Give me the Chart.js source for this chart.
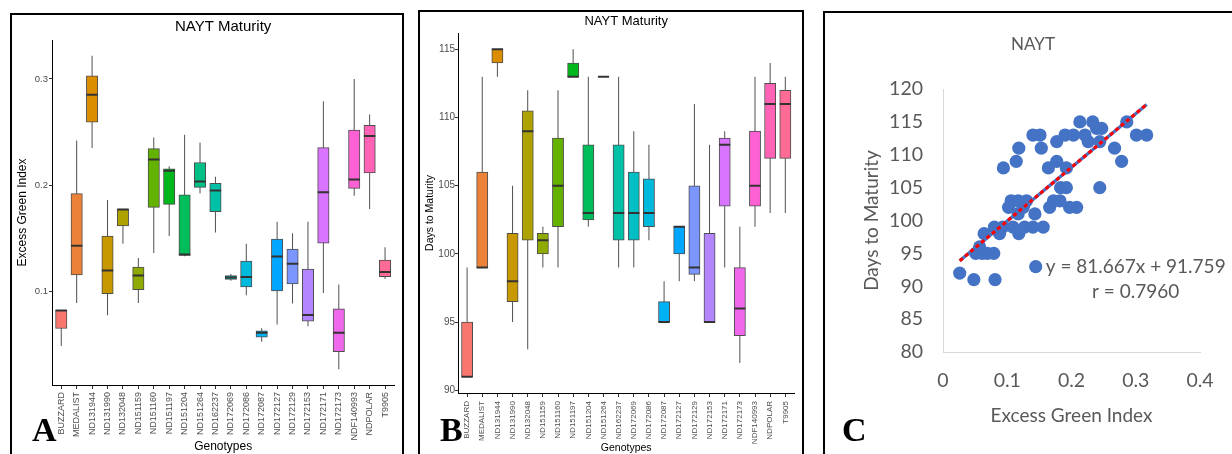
<!DOCTYPE html>
<html>
<head>
<meta charset="utf-8">
<title>NAYT Maturity</title>
<script src="https://cdn.jsdelivr.net/npm/chart.js@4.4.1/dist/chart.umd.min.js"></script>
<style>
  html, body { margin: 0; padding: 0; background: #fff; width: 1232px; height: 454px; overflow: hidden; }
  canvas { position: absolute; }
  .frame { position: absolute; border: 2px solid #000; box-sizing: border-box; }
  .letter { position: absolute; font-family: "Liberation Serif", "Times New Roman", serif; font-weight: bold;
            font-size: 34px; line-height: 1; color: #000; }
</style>
</head>
<body>
<canvas id="chartA" width="390" height="439" style="left:12px; top:15px;"></canvas>
<canvas id="chartB" width="382" height="442" style="left:420px; top:12px;"></canvas>
<canvas id="chartC" width="416" height="441" style="left:825px; top:13px;"></canvas>

<div class="frame" style="left:10px; top:13px; width:394px; height:460px;"></div>
<div class="frame" style="left:418px; top:10px; width:386px; height:460px;"></div>
<div class="frame" style="left:823px; top:11px; width:430px; height:460px;"></div>

<div class="letter" style="left:32px; top:413px;">A</div>
<div class="letter" style="left:440px; top:413px;">B</div>
<div class="letter" style="left:842px; top:413px;">C</div>

<script>
// ---------------- Genotypes of the NAYT trial ----------------
const genotypes = ['BUZZARD', 'MEDALIST', 'ND131944', 'ND131990', 'ND132048', 'ND151159', 'ND151160',
  'ND151197', 'ND151204', 'ND151264', 'ND162237', 'ND172069', 'ND172086', 'ND172087', 'ND172127',
  'ND172129', 'ND172153', 'ND172171', 'ND172173', 'NDF140993', 'NDPOLAR', 'T9905'];

// Excess Green Index per genotype: lower whisker, Q1, median, Q3, upper whisker
const egiLow  = [0.0485, 0.089, 0.235, 0.0775, 0.1447, 0.089, 0.136, 0.152, 0.133, 0.1922, 0.1553,
  0.110, 0.0963, 0.0526, 0.0688, 0.0885, 0.0672, 0.0985, 0.0266, 0.190, 0.1775, 0.1116];
const egiQ1   = [0.065, 0.1154, 0.2593, 0.0978, 0.1616, 0.1016, 0.179, 0.1819, 0.1337, 0.1978, 0.175,
  0.1112, 0.1041, 0.0569, 0.1004, 0.1069, 0.0719, 0.1454, 0.0432, 0.1969, 0.2115, 0.1138];
const egiMed  = [0.082, 0.143, 0.285, 0.1197, 0.177, 0.115, 0.2241, 0.2134, 0.1347, 0.2035, 0.195,
  0.1131, 0.1135, 0.061, 0.1328, 0.126, 0.0778, 0.1932, 0.061, 0.2053, 0.2462, 0.1182];
const egiQ3   = [0.082, 0.1919, 0.3028, 0.152, 0.1775, 0.1229, 0.2344, 0.2153, 0.1909, 0.2213, 0.2016,
  0.1147, 0.1285, 0.0629, 0.1491, 0.1397, 0.121, 0.2353, 0.0835, 0.2518, 0.2562, 0.1294];
const egiHigh = [0.082, 0.242, 0.3218, 0.186, 0.1775, 0.1313, 0.2447, 0.2178, 0.2475, 0.240, 0.2078,
  0.1163, 0.1447, 0.0653, 0.1656, 0.1547, 0.1656, 0.279, 0.1063, 0.300, 0.2665, 0.1416];
const egiTicks = [0.1, 0.2, 0.3];

// Days to maturity per genotype: lower whisker, Q1, median, Q3, upper whisker
const dtmLow  = [91, 99, 113, 95, 93, 99, 99, 113, 102, 113, 99, 99, 101, 95, 98, 98, 95, 99, 92, 102, 103, 103];
const dtmQ1   = [91, 99, 114, 96.5, 101, 100, 102, 113, 102.5, 113, 101, 101, 102, 95, 100, 98.5, 95, 103.5, 94, 103.5, 107, 107];
const dtmMed  = [91, 99, 115, 98, 109, 101, 105, 113, 103, 113, 103, 103, 103, 95, 102, 99, 95, 108, 96, 105, 111, 111];
const dtmQ3   = [95, 106, 115, 101.5, 110.5, 101.5, 108.5, 114, 108, 113, 108, 106, 105.5, 96.5, 102, 105, 101.5, 108.5, 99, 109, 112.5, 112];
const dtmHigh = [99, 113, 115, 105, 112, 102, 112, 115, 113, 113, 113, 109, 108, 98, 102, 111, 108, 109, 102, 113, 114, 113];
const dtmTicks = [90, 95, 100, 105, 110, 115];

// Plot-level observations: Excess Green Index vs days to maturity
const plotEgi  = [0.026, 0.048, 0.081, 0.051, 0.061, 0.069, 0.079, 0.057, 0.064, 0.088, 0.118, 0.080,
  0.093, 0.109, 0.127, 0.140, 0.156, 0.117, 0.143, 0.102, 0.125, 0.166, 0.208, 0.106, 0.117, 0.130,
  0.182, 0.197, 0.183, 0.192, 0.244, 0.094, 0.164, 0.192, 0.114, 0.177, 0.278, 0.118, 0.153, 0.267,
  0.177, 0.226, 0.244, 0.140, 0.151, 0.190, 0.203, 0.221, 0.239, 0.301, 0.317, 0.247, 0.213, 0.233,
  0.286, 0.172];
const plotDays = [92, 91, 91, 95, 95, 95, 95, 96, 98, 98, 98, 99,
  99, 99, 99, 99, 99, 101, 101, 102, 102, 102, 102, 103, 103, 103,
  103, 102, 105, 105, 105, 108, 108, 108, 109, 109, 109, 111, 111, 111,
  112, 112, 112, 113, 113, 113, 113, 113, 114, 113, 113, 114, 115, 115,
  115, 103];
const trendSlope = 81.667;
const trendIntercept = 91.759;
const trendR = 0.7960;
const scatterXTicks = [0, 0.1, 0.2, 0.3, 0.4];
const scatterYTicks = [80, 85, 90, 95, 100, 105, 110, 115, 120];

// ---------------- helpers ----------------
// ggplot-style hue palette colour from polar CIE-Luv (h, c, l)
function hcl(h, c, l) {
  const hr = h * Math.PI / 180;
  const U = c * Math.cos(hr), V = c * Math.sin(hr);
  const Y = l > 7.999592 ? Math.pow((l + 16) / 116, 3) : l / 903.3;
  const u = U / (13 * l) + 0.1978398;
  const v = V / (13 * l) + 0.4683363;
  const X = 9 * Y * u / (4 * v);
  const Z = -X / 3 - 5 * Y + 3 * Y / v;
  const gam = t => {
    t = t > 0.0031308 ? 1.055 * Math.pow(t, 1 / 2.4) - 0.055 : 12.92 * t;
    return Math.round(255 * Math.min(1, Math.max(0, t)));
  };
  const r = gam(3.240479 * X - 1.537150 * Y - 0.498535 * Z);
  const g = gam(-0.969256 * X + 1.875992 * Y + 0.041556 * Z);
  const b = gam(0.055648 * X - 0.204043 * Y + 1.057311 * Z);
  return `rgb(${r},${g},${b})`;
}

// Title centred over the plotting area
const panelTitle = {
  id: 'panelTitle',
  afterDraw(chart, args, opts) {
    const {ctx, chartArea} = chart;
    ctx.save();
    ctx.font = `${opts.size}px ${opts.family}`;
    ctx.fillStyle = opts.color;
    ctx.textAlign = 'center';
    ctx.textBaseline = 'middle';
    const cx = opts.centerOnCanvas ? chart.width / 2 : (chartArea.left + chartArea.right) / 2;
    ctx.fillText(opts.text, cx, chartArea.top + opts.dy);
    ctx.restore();
  }
};

const SANS = '"Liberation Sans", Arial, sans-serif';

function boxplotChart(canvasId, s) {
  const n = genotypes.length;
  const idx = genotypes.map((_, i) => i);
  const fills = idx.map(i => hcl(15 + i * 360 / n, 100, 65));
  return new Chart(document.getElementById(canvasId), {
    type: 'bar',
    data: {
      datasets: [
        { label: 'whiskers', order: 2, grouped: false, barThickness: 1, inflateAmount: 0,
          backgroundColor: '#505050', borderWidth: 0,
          data: idx.map(i => ({x: i, y: [s.low[i], s.high[i]]})) },
        { label: 'boxes', order: 1, grouped: false, barThickness: s.boxWidth,
          backgroundColor: fills, borderColor: '#4d4d4d', borderWidth: 1, borderSkipped: false,
          data: idx.map(i => ({x: i, y: [s.q1[i], s.q3[i]]})) },
        { type: 'line', label: 'medians', order: 0, showLine: false, pointStyle: 'line',
          pointRadius: s.boxWidth / 2, pointBorderWidth: 2, pointBorderColor: '#333', pointBackgroundColor: '#333',
          data: idx.map(i => ({x: i, y: s.med[i]})) }
      ]
    },
    plugins: [panelTitle],
    options: {
      responsive: false, animation: false, events: [],
      layout: { padding: s.padding },
      plugins: {
        legend: { display: false }, tooltip: { enabled: false },
        panelTitle: { text: 'NAYT Maturity', size: s.titleSize, family: SANS, color: '#000', dy: s.titleDy }
      },
      scales: {
        x: {
          type: 'linear', min: -0.6, max: n - 1 + 0.6, offset: false,
          afterBuildTicks: sc => { sc.ticks = idx.map(i => ({value: i})); },
          afterFit: sc => { sc.height = s.xAxisHeight; sc.paddingLeft = 0; sc.paddingRight = 0; },
          ticks: { autoSkip: false, minRotation: 90, maxRotation: 90, padding: s.xTickPad,
                   color: '#4d4d4d', font: { family: SANS, size: s.xTickSize },
                   callback: v => genotypes[v] },
          grid: { display: true, drawOnChartArea: false, drawTicks: true, tickLength: 4, color: '#333', offset: false },
          border: { display: true, color: '#000', width: 1 },
          title: { display: true, text: 'Genotypes', color: '#000',
                   font: { family: SANS, size: s.axisTitleSize }, padding: { top: 0, bottom: s.xTitlePad } }
        },
        y: {
          min: s.yMin, max: s.yMax,
          afterBuildTicks: sc => { sc.ticks = s.ticks.map(v => ({value: v})); },
          afterFit: sc => { sc.width = s.yAxisWidth; sc.paddingTop = 0; sc.paddingBottom = 0; },
          ticks: { padding: s.yTickPad, color: '#4d4d4d', font: { family: SANS, size: s.yTickSize },
                   callback: s.tickFormat },
          grid: { display: true, drawOnChartArea: false, drawTicks: true, tickLength: 3, color: '#333' },
          border: { display: true, color: '#000', width: 1 },
          title: { display: true, text: s.yTitle, color: '#000',
                   font: { family: SANS, size: s.axisTitleSize }, padding: { top: s.yTitlePad, bottom: 0 } }
        }
      }
    }
  });
}

// ---------------- A: Excess Green Index by genotype ----------------
boxplotChart('chartA', {
  low: egiLow, q1: egiQ1, med: egiMed, q3: egiQ3, high: egiHigh, ticks: egiTicks,
  yMin: 0.0118, yMax: 0.3366, tickFormat: v => v.toFixed(1), yTitle: 'Excess Green Index',
  boxWidth: 11.4, padding: { top: 25, right: 4, bottom: 0, left: 0 },
  xAxisHeight: 69, yAxisWidth: 40, titleSize: 15, titleDy: -13, axisTitleSize: 12,
  xTickSize: 9, yTickSize: 9.5, xTickPad: 3, yTickPad: 1, xTitlePad: 0, yTitlePad: 3
});

// ---------------- B: days to maturity by genotype ----------------
boxplotChart('chartB', {
  low: dtmLow, q1: dtmQ1, med: dtmMed, q3: dtmQ3, high: dtmHigh, ticks: dtmTicks,
  yMin: 89.8, yMax: 116.2, tickFormat: v => String(v), yTitle: 'Days to Maturity',
  boxWidth: 11.2, padding: { top: 21, right: 5, bottom: 0, left: 0 },
  xAxisHeight: 61, yAxisWidth: 38, titleSize: 13, titleDy: -11.6, axisTitleSize: 10.5,
  xTickSize: 8, yTickSize: 10, xTickPad: 4, yTickPad: 0, xTitlePad: 0, yTitlePad: 4
});

// ---------------- C: Excess Green Index vs days to maturity ----------------
const LATO = 'Lato, "Open Sans", sans-serif';
const GREY = '#595959';
const trendX = [Math.min(...plotEgi), Math.max(...plotEgi)];
const trendPts = trendX.map(x => ({x, y: trendSlope * x + trendIntercept}));

const trendLabel = {
  id: 'trendLabel',
  afterDraw(chart) {
    const {ctx, chartArea} = chart;
    const L = chartArea.left, T = chartArea.top;
    ctx.save();
    ctx.fillStyle = '#4472C4';
    ctx.beginPath();
    ctx.arc(L + 92.7, T + 177.7, 6.6, 0, Math.PI * 2);
    ctx.fill();
    ctx.fillStyle = GREY;
    ctx.font = `19px ${LATO}`;
    ctx.textAlign = 'center';
    ctx.textBaseline = 'middle';
    ctx.fillText(`y = ${trendSlope.toFixed(3)}x + ${trendIntercept.toFixed(3)}`, L + 192.7, T + 177.4);
    ctx.fillText(`r = ${trendR.toFixed(4)}`, L + 192.7, T + 202.4);
    ctx.restore();
  }
};

new Chart(document.getElementById('chartC'), {
  type: 'scatter',
  data: {
    datasets: [
      { label: 'trend', order: 1, type: 'line', data: trendPts, showLine: true, pointRadius: 0,
        borderColor: '#4472C4', borderWidth: 3.2 },
      { label: 'trend-dots', order: 0, type: 'line', data: trendPts, showLine: true, pointRadius: 0,
        borderColor: '#FF0000', borderWidth: 3.2, borderDash: [4, 3] },
      { label: 'plots', order: 2, data: plotEgi.map((x, i) => ({x, y: plotDays[i]})),
        pointRadius: 6.6, backgroundColor: '#4472C4', borderColor: '#4472C4', borderWidth: 0 }
    ]
  },
  plugins: [panelTitle, trendLabel],
  options: {
    responsive: false, animation: false, events: [],
    layout: { padding: { top: 76, right: 41, bottom: 0, left: 0 } },
    plugins: {
      legend: { display: false }, tooltip: { enabled: false },
      panelTitle: { text: 'NAYT', size: 17, family: LATO, color: GREY, dy: -44, centerOnCanvas: true }
    },
    scales: {
      x: {
        type: 'linear', min: 0, max: 0.4,
        afterBuildTicks: sc => { sc.ticks = scatterXTicks.map(v => ({value: v})); },
        afterFit: sc => { sc.height = 102; sc.paddingLeft = 0; sc.paddingRight = 0; },
        ticks: { padding: 17, color: GREY, font: { family: LATO, size: 19.5 },
                 callback: v => (v === 0 ? '0' : v.toFixed(1)) },
        grid: { display: false, drawTicks: false },
        border: { display: true, color: '#D9D9D9', width: 1 },
        title: { display: true, text: 'Excess Green Index', color: GREY,
                 font: { family: LATO, size: 19 }, padding: { top: 0, bottom: 27 } }
      },
      y: {
        min: 80, max: 120,
        afterBuildTicks: sc => { sc.ticks = scatterYTicks.map(v => ({value: v})); },
        afterFit: sc => { sc.width = 118; sc.paddingTop = 0; sc.paddingBottom = 0; },
        ticks: { padding: 20, color: GREY, font: { family: LATO, size: 19.5 } },
        grid: { display: false, drawTicks: false },
        border: { display: true, color: '#D9D9D9', width: 1 },
        title: { display: true, text: 'Days to Maturity', color: GREY,
                 font: { family: LATO, size: 19 }, padding: { top: 35, bottom: 0 } }
      }
    }
  }
});
</script>
</body>
</html>
